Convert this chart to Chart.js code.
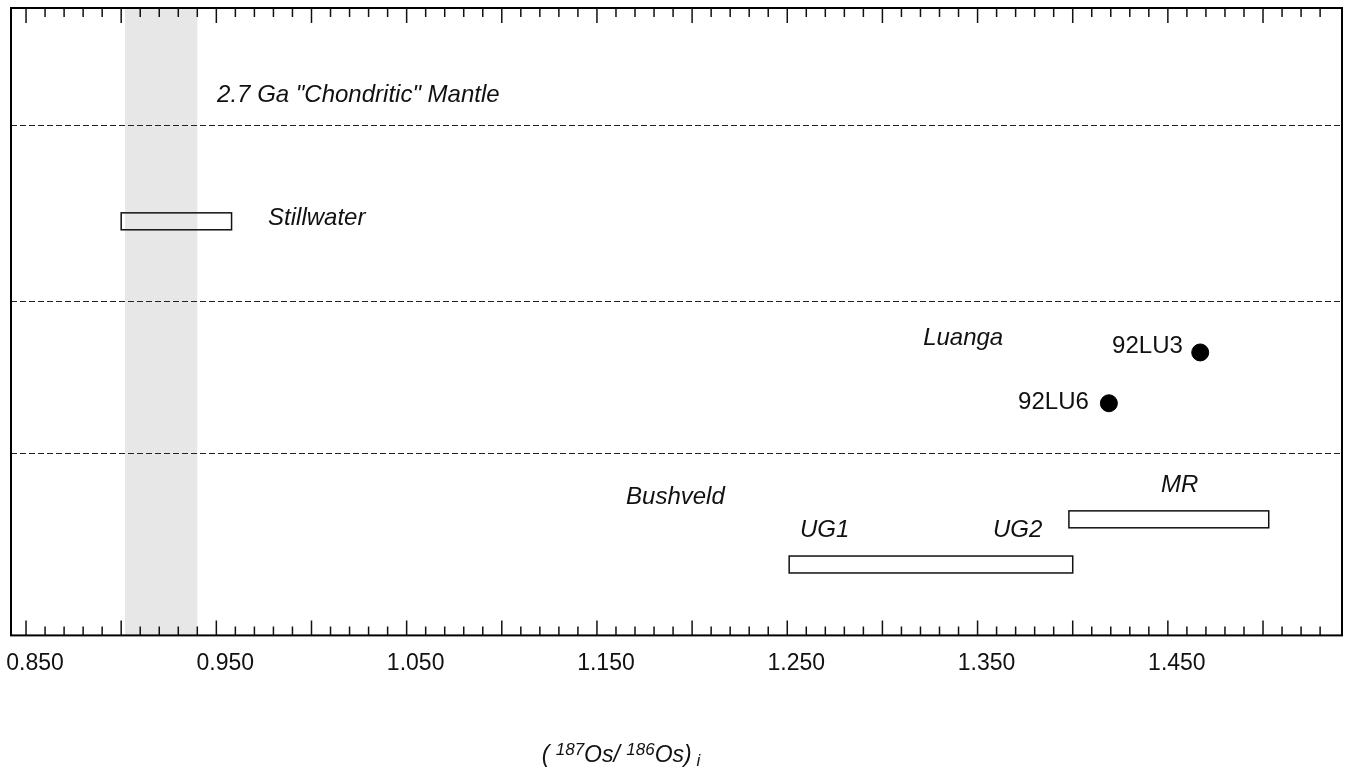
<!DOCTYPE html>
<html>
<head>
<meta charset="utf-8">
<title>Os isotopes</title>
<script src="https://cdn.jsdelivr.net/npm/chart.js@4"></script>
<style>
  html, body { margin: 0; padding: 0; background: #fff; }
  #wrap { width: 1345px; height: 769px; }
</style>
</head>
<body>
<div id="wrap"><canvas id="osChart"></canvas></div>
<script>
// x range and tick labels of the (187Os/186Os)i axis
const xMin = 0.8421;
const xMax = 1.5415;
const tickLabels = [0.850, 0.950, 1.050, 1.150, 1.250, 1.350, 1.450];

// grey band = 2.7 Ga chondritic mantle
const mantleBand = [0.902, 0.940];

// dashed lines between the intrusions (y in arbitrary rows 0..10)
const groupLines = [8.13, 5.33, 2.90];

// range boxes
const boxNames = ['Stillwater', 'UG1-UG2', 'MR'];
const boxFrom = [0.900, 1.251, 1.398];
const boxTo = [0.958, 1.400, 1.503];
const boxY = [6.60, 1.13, 1.85];

// Luanga samples
const sampleNames = ['92LU3', '92LU6'];
const sampleX = [1.467, 1.419];
const sampleY = [4.51, 3.70];

// text annotations
const labelTexts = ['2.7 Ga "Chondritic" Mantle', 'Stillwater', 'Luanga', '92LU3', '92LU6', 'Bushveld', 'MR', 'UG1', 'UG2'];
const labelX = [0.9504, 0.9772, 1.3214, 1.4207, 1.3713, 1.1653, 1.4464, 1.2567, 1.3581];
const labelY = [8.61, 6.65, 4.74, 4.61, 3.72, 2.20, 2.39, 1.67, 1.67];
const labelItalic = [true, true, true, false, false, true, true, true, true];

const FONT = '"Liberation Sans", Arial, Helvetica, sans-serif';
const BOX_HALF = 0.135;

// everything that is not a dataset gets drawn here
const decorPlugin = {
  id: 'decor',
  beforeDatasetsDraw(chart) {
    const ctx = chart.ctx;
    const a = chart.chartArea;
    const xs = chart.scales.x;
    const ys = chart.scales.y;
    ctx.save();

    // grey band
    ctx.fillStyle = '#e7e7e7';
    const b0 = xs.getPixelForValue(mantleBand[0]);
    const b1 = xs.getPixelForValue(mantleBand[1]);
    ctx.fillRect(b0, a.top, b1 - b0, a.bottom - a.top);

    // dashed separators
    ctx.strokeStyle = '#222';
    ctx.lineWidth = 1.2;
    ctx.setLineDash([6, 3]);
    groupLines.forEach(function (v) {
      const y = Math.round(ys.getPixelForValue(v)) + 0.5;
      ctx.beginPath();
      ctx.moveTo(a.left, y);
      ctx.lineTo(a.right, y);
      ctx.stroke();
    });
    ctx.setLineDash([]);

    // boxes
    ctx.strokeStyle = '#111';
    ctx.lineWidth = 1.5;
    for (let i = 0; i < boxNames.length; i++) {
      const x0 = xs.getPixelForValue(boxFrom[i]);
      const x1 = xs.getPixelForValue(boxTo[i]);
      const y0 = ys.getPixelForValue(boxY[i] + BOX_HALF);
      const y1 = ys.getPixelForValue(boxY[i] - BOX_HALF);
      ctx.strokeRect(x0, y0, x1 - x0, y1 - y0);
    }

    // frame
    ctx.strokeStyle = '#000';
    ctx.lineWidth = 2;
    ctx.strokeRect(a.left, a.top, a.right - a.left, a.bottom - a.top);

    // inward ticks, top and bottom, every 0.01 (long every 0.05)
    ctx.lineWidth = 1.5;
    ctx.strokeStyle = '#111';
    for (let i = 84; i <= 154; i++) {
      const v = i / 100;
      if (v < xMin || v > xMax - 0.003) continue;
      const x = xs.getPixelForValue(v);
      const len = (i % 5 === 0) ? 15 : 9;
      ctx.beginPath();
      ctx.moveTo(x, a.top);
      ctx.lineTo(x, a.top + len);
      ctx.moveTo(x, a.bottom);
      ctx.lineTo(x, a.bottom - len);
      ctx.stroke();
    }
    ctx.restore();
  },
  afterDatasetsDraw(chart) {
    const ctx = chart.ctx;
    const xs = chart.scales.x;
    const ys = chart.scales.y;
    ctx.save();
    ctx.fillStyle = '#111';
    ctx.textBaseline = 'middle';
    ctx.textAlign = 'left';
    for (let i = 0; i < labelTexts.length; i++) {
      ctx.font = (labelItalic[i] ? 'italic ' : '') + '24px ' + FONT;
      ctx.fillText(labelTexts[i], xs.getPixelForValue(labelX[i]), ys.getPixelForValue(labelY[i]));
    }

    // axis title (187Os/ 186Os)i
    const parts = [
      { t: '( ', s: 23, dy: 0 },
      { t: '187', s: 17, dy: -7 },
      { t: 'Os/ ', s: 23, dy: 0 },
      { t: '186', s: 17, dy: -7 },
      { t: 'Os)', s: 23, dy: 0 },
      { t: ' i', s: 17, dy: 4 }
    ];
    ctx.textBaseline = 'alphabetic';
    let total = 0;
    parts.forEach(function (p) {
      ctx.font = 'italic ' + p.s + 'px ' + FONT;
      p.w = ctx.measureText(p.t).width;
      total += p.w;
    });
    let x = xs.getPixelForValue(1.1626) - total / 2;
    const base = chart.height - 7;
    parts.forEach(function (p) {
      ctx.font = 'italic ' + p.s + 'px ' + FONT;
      ctx.fillText(p.t, x, base + p.dy);
      x += p.w;
    });
    ctx.restore();
  }
};

const ctx = document.getElementById('osChart').getContext('2d');
new Chart(ctx, {
  type: 'scatter',
  data: {
    datasets: [{
      label: 'Luanga',
      data: sampleX.map(function (x, i) { return { x: x, y: sampleY[i] }; }),
      backgroundColor: '#000',
      borderColor: '#000',
      pointRadius: 8.5,
      pointHoverRadius: 8.5
    }]
  },
  options: {
    responsive: true,
    maintainAspectRatio: false,
    animation: false,
    events: [],
    layout: {
      autoPadding: false,
      padding: { left: 11, right: 3, top: 8, bottom: 78 }
    },
    plugins: {
      legend: { display: false },
      tooltip: { enabled: false }
    },
    scales: {
      x: {
        type: 'linear',
        min: xMin,
        max: xMax,
        afterBuildTicks: function (scale) {
          scale.ticks = tickLabels.map(function (v) { return { value: v }; });
        },
        afterFit: function (scale) {
          // labels may hang over the frame, like in the original
          scale.paddingLeft = 0;
          scale.paddingRight = 0;
        },
        grid: { display: false, drawTicks: false },
        border: { display: false },
        ticks: {
          color: '#111',
          padding: 14,
          labelOffset: 9,
          maxRotation: 0,
          autoSkip: false,
          font: { family: FONT, size: 23 },
          callback: function (v) { return Number(v).toFixed(3); }
        }
      },
      y: {
        type: 'linear',
        min: 0,
        max: 10,
        display: false
      }
    }
  },
  plugins: [decorPlugin]
});
</script>
</body>
</html>
